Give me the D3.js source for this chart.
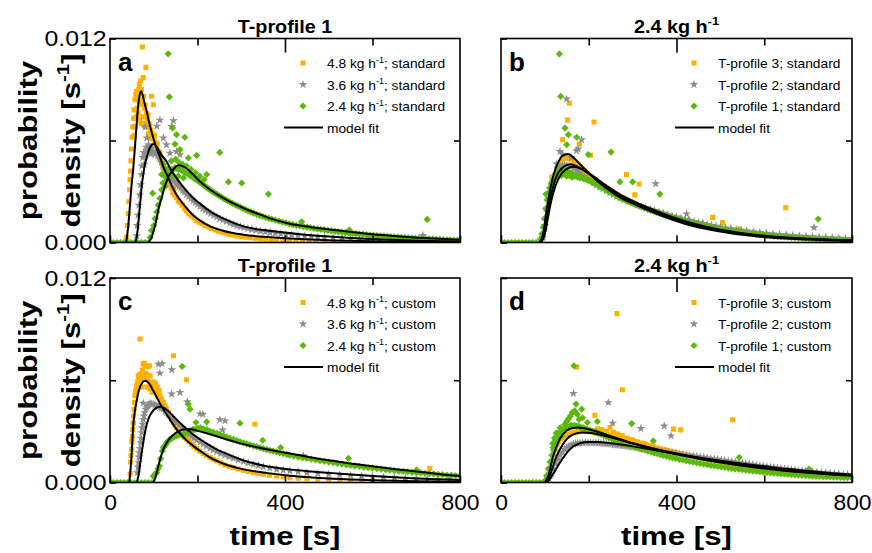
<!DOCTYPE html>
<html>
<head>
<meta charset="utf-8">
<script src="https://cdn.jsdelivr.net/npm/d3@7"></script>
<style>
body { margin: 0; background: #fff; }
text { font-family: "Liberation Sans", Arial, sans-serif; }
</style>
</head>
<body>
<div id="graph"></div>
<script>
// data: [time s, probability density in 1e-3 s^-1]

// panel a - T-profile 1, standard
var aStd48 = [[38,0.3],[40,1.0],[42,1.7],[43,2.4],[45,3.1],[46,3.7],[47,4.2],[48,4.8],[49,5.5],[51,6.2],[52,6.8],[54,7.3],[55,7.8],[56,6.3],[57,8.4],[58,6.8],[59,8.7],[60,7.4],[61,8.9],[62,7.9],[63,8.6],[64,7.6],[65,8.4],[66,9.0],[67,9.3],[68,7.2],[69,8.3],[70,9.5],[71,7.0],[72,9.0],[73,8.1],[74,11.5],[75,7.4],[76,9.7],[77,8.6],[78,6.9],[79,7.9],[80,8.1],[81,7.0],[82,10.3],[83,7.6],[84,6.8],[85,7.3],[87,7.5],[88,6.4],[89,7.0],[91,6.9],[92,6.1],[93,6.6],[95,8.6],[96,6.4],[99,8.1],[100,6.1],[102,6.3],[103,5.9],[106,5.7],[108,5.8],[109,5.4],[112,5.1],[114,5.3],[115,4.9],[118,4.7],[120,4.8],[121,4.4],[124,4.2],[126,4.35],[127,3.95],[130,3.8],[132,3.95],[133,3.6],[136,3.4],[138,3.6],[140,3.2],[144,2.95],[146,3.2],[148,2.8],[152,2.65],[156,2.45],[160,2.35],[165,2.2],[170,2.0],[175,1.85],[180,1.7],[186,1.58],[192,1.45],[198,1.3],[204,1.2],[210,1.1],[217,1.0],[224,0.92],[232,0.82],[240,0.74],[248,0.66],[256,0.6],[264,0.54],[272,0.48],[280,0.44],[290,0.39],[300,0.35],[310,0.31],[320,0.28],[332,0.25],[344,0.22],[356,0.19],[368,0.17],[380,0.15],[395,0.13],[410,0.11],[425,0.1],[440,0.08],[455,0.07],[470,0.06],[490,0.05],[510,0.04],[530,0.03]];
var aStd36 = [[61,0.4],[62,1.0],[64,1.6],[66,2.2],[68,2.8],[70,3.4],[72,4.0],[73,4.5],[75,5.0],[77,5.3],[78,4.6],[80,6.8],[81,5.1],[83,5.6],[84,6.15],[86,5.4],[88,5.75],[90,5.5],[91,5.36],[93,5.2],[95,5.56],[97,5.3],[100,5.35],[103,5.2],[105,5.3],[107,6.84],[109,5.1],[112,5.0],[114,7.2],[115,4.9],[118,4.7],[121,4.55],[122,6.15],[124,4.4],[127,4.25],[129,5.75],[130,4.2],[133,4.05],[136,3.95],[137,5.26],[139,3.85],[141,6.83],[142,3.7],[145,7.17],[146,3.6],[150,3.5],[152,5.36],[154,3.4],[158,3.3],[160,5.17],[162,3.2],[166,3.08],[170,2.95],[175,2.82],[180,2.7],[185,2.58],[190,2.46],[195,2.35],[200,2.24],[206,2.12],[212,2.0],[218,1.9],[224,1.8],[230,1.7],[237,1.6],[244,1.5],[251,1.4],[258,1.32],[266,1.23],[274,1.14],[282,1.06],[290,0.99],[298,0.93],[306,0.88],[315,0.82],[324,0.77],[334,0.72],[344,0.67],[355,0.62],[366,0.58],[378,0.54],[390,0.5],[402,0.47],[415,0.44],[430,0.41],[445,0.38],[460,0.35],[475,0.32],[490,0.3],[510,0.27],[530,0.25],[550,0.22],[570,0.2],[590,0.18],[615,0.16],[640,0.14],[665,0.12],[690,0.1],[715,0.42],[720,0.09],[745,0.08],[770,0.07],[795,0.06]];
var aStd24 = [[0,0],[8,0],[16,0],[24,0],[32,0],[40,0],[48,0],[56,0],[64,0],[72,0],[80,0],[88,0],[92,0.3],[95,0.7],[97.5,2.9],[100,1.0],[103,1.4],[107,1.8],[110,2.2],[114,2.6],[118,3.1],[118,4.0],[121,3.5],[122,4.6],[125,3.9],[126,3.3],[128,4.1],[130,4.2],[130,3.7],[133,11.1],[134,4.3],[135,4.0],[135.6,8.56],[138,4.2],[140,4.8],[141,4.3],[143,6.74],[145,4.28],[145,3.9],[148.6,5.79],[149,4.4],[150,4.9],[152,6.34],[153,4.35],[156,3.9],[157,4.3],[158,4.7],[160,5.46],[161,4.32],[165,4.22],[166,4.6],[168,3.8],[169,4.15],[171,6.19],[173,4.1],[175,4.5],[177,4.05],[179,4.97],[181,3.98],[185,3.92],[185,4.3],[189,3.85],[193,3.76],[195,4.1],[197,3.7],[198,5.13],[201,3.62],[205,3.55],[205,3.9],[209,3.48],[213,3.4],[215,3.7],[217,3.32],[221,3.24],[221,4.0],[225,3.16],[229,3.1],[234,3.0],[239,2.92],[244,2.84],[249,2.76],[251,5.3],[254,2.68],[259,2.6],[264,2.52],[269,2.45],[270.5,3.56],[274,2.38],[280,2.3],[286,2.22],[292,2.15],[298,2.08],[301,3.5],[304,2.0],[310,1.93],[316,1.86],[322,1.8],[328,1.73],[335,1.66],[342,1.6],[349,1.53],[356,1.47],[362,2.85],[363,1.42],[370,1.37],[378,1.31],[386,1.26],[394,1.2],[402,1.15],[410,1.1],[418,1.05],[426,1.01],[434,0.97],[438,1.22],[442,0.93],[450,0.9],[458,0.87],[466,0.83],[474,0.8],[482,0.77],[490,0.74],[498,0.71],[506,0.68],[514,0.66],[522,0.63],[530,0.61],[538,0.58],[546,0.56],[547,0.74],[554,0.54],[562,0.52],[570,0.5],[578,0.48],[586,0.46],[594,0.44],[602,0.42],[610,0.4],[618,0.39],[626,0.37],[634,0.35],[642,0.34],[650,0.33],[658,0.31],[666,0.3],[674,0.29],[682,0.27],[690,0.26],[698,0.25],[706,0.24],[714,0.23],[722,0.22],[725,1.36],[730,0.21],[738,0.2],[746,0.19],[754,0.18],[762,0.17],[770,0.16],[778,0.15],[786,0.14],[794,0.13],[800,0.13]];
var aFit48 = [[37,0],[41,0.8],[45,2.0],[49,3.3],[53,4.3],[57,5.6],[61,7.0],[65,8.2],[68,8.7],[71,8.9],[74,8.75],[78,8.3],[84,7.7],[91,6.9],[99,6.15],[107,5.5],[115,4.97],[122,4.45],[130,3.99],[141,3.35],[152,2.81],[163,2.4],[175,2.03],[190,1.6],[205,1.3],[229,0.95],[260,0.68],[305,0.46],[360,0.32],[411,0.23],[460,0.17],[520,0.12],[600,0.07],[700,0.04],[800,0.02]];
var aFit36 = [[57,0],[61,0.3],[64,0.9],[67,1.8],[70,2.6],[72,3.2],[76,4.0],[80,4.6],[85,5.1],[90,5.5],[95,5.72],[99,5.8],[104,5.72],[110,5.5],[118,5.15],[129,4.78],[140,4.25],[152,3.79],[165,3.35],[178,2.95],[190,2.62],[210,2.2],[229,1.83],[260,1.4],[305,0.95],[360,0.7],[411,0.56],[460,0.43],[520,0.32],[600,0.2],[700,0.11],[800,0.06]];
var aFit24 = [[88,0],[95,0.3],[101,0.8],[107,1.44],[112,2.1],[118,2.62],[124,3.2],[129.5,3.6],[135,3.95],[141,4.16],[148,4.4],[156,4.54],[165,4.5],[175,4.35],[190,4.0],[205,3.6],[229,3.1],[260,2.6],[305,2.03],[335,1.72],[366,1.42],[411,1.1],[460,0.9],[518,0.72],[594,0.5],[670,0.34],[740,0.23],[800,0.16]];

// panel b - 2.4 kg/h, standard
var bStdTP3 = [[96,0.3],[100,0.8],[104,1.5],[108,2.2],[112,2.8],[115.5,3.87],[116,3.3],[120,3.7],[124,4.0],[128,4.3],[132,4.5],[136,4.7],[140,4.85],[140.5,6.05],[144,4.95],[148,5.0],[152,7.2],[152,5.0],[155.7,8.2],[156,4.95],[160,4.9],[164,4.85],[168,4.75],[172,4.65],[176,4.55],[178.5,5.79],[180,4.45],[185,4.3],[190,4.2],[195,4.08],[200,3.95],[204,5.13],[206,3.85],[212,7.09],[212,3.72],[218,3.6],[224,3.5],[230,3.38],[236,3.27],[242,3.17],[248,3.07],[254,2.97],[260,2.88],[266,2.79],[272,2.7],[278,2.62],[284,2.54],[286,4.0],[290,2.46],[296,2.39],[302,2.32],[305,2.8],[308,2.25],[314,2.18],[315,3.44],[320,2.12],[326,2.06],[332,2.0],[338,1.94],[344,1.88],[350,1.83],[357,1.77],[364,1.71],[371,1.65],[378,1.59],[385,1.53],[392,1.47],[400,1.41],[408,1.35],[416,1.29],[424,1.24],[432,1.19],[440,1.14],[448,1.09],[456,1.04],[464,0.99],[472,0.95],[480,0.91],[482.5,1.48],[488,0.87],[496,0.83],[504,0.79],[505,1.17],[512,0.75],[520,0.72],[528,0.69],[536,0.66],[543,0.81],[544,0.63],[552,0.6],[560,0.57],[570,0.54],[580,0.51],[590,0.48],[600,0.45],[610,0.42],[620,0.4],[630,0.38],[640,0.36],[649,2.05],[650,0.34],[660,0.32],[670,0.3],[680,0.28],[690,0.26],[700,0.25],[710,0.23],[720,0.22],[730,0.21],[740,0.2],[750,0.19],[760,0.18],[770,0.17],[780,0.16],[790,0.15],[800,0.14]];
var bStdTP2 = [[95,0.3],[100,1.0],[105,1.8],[110,2.6],[115,3.2],[120,3.7],[125,4.0],[127,4.62],[130,4.25],[134.5,5.36],[135,4.4],[140,4.5],[140,5.2],[145,4.55],[149.7,8.44],[150,4.55],[155,4.5],[160,4.45],[160,5.0],[166,4.35],[172,4.25],[172,5.4],[176,5.5],[178,4.1],[183.9,6.05],[184,3.98],[190,3.88],[197,3.75],[204,3.62],[211,3.5],[218,3.38],[225,3.27],[232,3.16],[240,3.04],[248,2.93],[256,2.82],[264,2.72],[272,2.62],[280,2.53],[290,2.42],[300,2.32],[310,2.22],[320,2.13],[330,2.04],[340,1.96],[350,1.88],[352.5,3.46],[360,1.8],[370,1.72],[380,1.64],[390,1.57],[400,1.5],[410,1.43],[420,1.36],[423,1.68],[427,1.32],[430,1.3],[440,1.24],[450,1.18],[460,1.12],[461,1.09],[470,1.06],[480,1.01],[490,0.96],[500,0.91],[512,0.86],[524,0.81],[536,0.76],[548,0.72],[560,0.68],[575,0.63],[590,0.59],[605,0.55],[620,0.51],[635,0.48],[650,0.45],[665,0.42],[680,0.39],[695,0.37],[710,0.34],[713.4,0.89],[725,0.32],[740,0.3],[755,0.28],[770,0.26],[785,0.24],[800,0.22]];
var bStdTP1 = [[0,0],[8,0],[16,0],[24,0],[32,0],[40,0],[48,0],[56,0],[64,0],[72,0],[80,0],[88,0],[90,0.2],[93,0.5],[96,0.9],[99,1.4],[102,2.0],[102.6,2.85],[105,2.5],[108,2.9],[111,3.2],[114,3.45],[117,3.6],[120,3.7],[123,3.8],[126,3.9],[129,4.0],[132,4.2],[133,11.09],[135,4.1],[136,8.6],[138,3.95],[141,4.3],[144,4.0],[145.9,6.73],[147,4.1],[149.7,5.75],[150,3.9],[153,4.15],[153.5,6.34],[156,3.95],[159,4.1],[162,3.85],[165,4.0],[168,3.9],[171,3.95],[172.5,6.19],[174,3.85],[177,3.9],[180,3.8],[184,3.85],[188,3.75],[192,3.75],[196,3.7],[199,5.17],[200,3.65],[205,3.58],[210,3.52],[215,3.45],[220,3.38],[225,3.3],[230,3.23],[236,3.14],[242,3.05],[248,2.96],[250.7,5.32],[254,2.87],[260,2.79],[266,2.71],[271,3.56],[272,2.63],[278,2.55],[284,2.48],[290,2.41],[296,2.34],[300,3.56],[302,2.28],[308,2.21],[314,2.15],[320,2.09],[327,2.02],[334,1.95],[341,1.89],[348,1.83],[355,1.77],[362,1.71],[362,2.85],[369,1.65],[376,1.6],[383,1.54],[390,1.49],[398,1.43],[406,1.37],[414,1.31],[422,1.25],[430,1.19],[438,1.14],[446,1.09],[454,1.04],[462,0.99],[470,0.94],[478,0.9],[486,0.86],[494,0.82],[502,0.78],[510,0.75],[518,0.71],[526,0.68],[534,0.65],[542,0.62],[550,0.59],[558,0.56],[566,0.53],[574,0.51],[582,0.48],[590,0.46],[598,0.44],[606,0.42],[614,0.4],[622,0.38],[630,0.36],[638,0.34],[646,0.33],[654,0.31],[662,0.3],[670,0.28],[678,0.27],[686,0.26],[694,0.24],[702,0.23],[710,0.22],[718,0.21],[723,1.38],[726,0.2],[734,0.19],[742,0.18],[750,0.17],[758,0.16],[766,0.15],[774,0.15],[782,0.14],[790,0.13],[800,0.12]];
var bFitTP3 = [[88,0],[95,0.4],[104,1.9],[112,3.1],[120,4.0],[130,4.7],[140,5.1],[153,5.2],[165,5.0],[180,4.6],[200,4.1],[225,3.5],[250,3.0],[275,2.6],[300,2.3],[340,1.85],[390,1.35],[440,0.95],[500,0.65],[550,0.45],[620,0.28],[700,0.17],[800,0.09]];
var bFitTP2 = [[90,0],[97,0.4],[106,1.8],[115,2.9],[125,3.8],[140,4.4],[158,4.6],[175,4.45],[200,4.05],[225,3.55],[250,3.1],[275,2.7],[300,2.4],[340,1.95],[390,1.45],[440,1.05],[500,0.72],[550,0.52],[620,0.33],[700,0.2],[800,0.11]];
var bFitTP1 = [[92,0],[100,0.5],[110,1.9],[120,3.0],[132,3.8],[148,4.3],[165,4.45],[185,4.3],[210,3.9],[240,3.35],[270,2.85],[300,2.45],[340,2.0],[390,1.5],[440,1.1],[500,0.75],[550,0.55],[620,0.35],[700,0.22],[800,0.12]];

// panel c - T-profile 1, custom
var cCus48 = [[46,0.5],[47,1.2],[48,1.6],[49.5,1.95],[50,2.4],[51,2.7],[52,3.1],[53.3,3.5],[54,3.9],[55,4.3],[56,4.7],[57,5.1],[59,5.4],[61,5.68],[63,5.9],[64.8,6.26],[66,6.0],[68.6,6.36],[68.6,8.42],[70,6.1],[72,5.6],[72.4,6.26],[74,6.6],[76,6.95],[78,6.2],[78.5,7.0],[80,6.85],[82,6.4],[84,6.07],[84,5.6],[86,6.3],[87.6,6.8],[90,6.85],[90,5.5],[91.4,6.26],[93,5.9],[95,5.87],[96,5.3],[97,5.75],[99,5.68],[100,5.9],[102,5.5],[104,5.8],[106.7,5.38],[108,5.6],[110,5.2],[112,5.4],[114,5.09],[118,4.9],[122,4.7],[126,4.5],[129.5,4.3],[133,4.1],[137,3.91],[141,3.72],[145,3.52],[145,7.44],[148,3.38],[152,3.23],[158,3.03],[164,2.83],[170,2.66],[175,2.54],[175,6.03],[181,2.4],[186.7,2.25],[192,2.12],[198,1.99],[205,1.84],[213,1.7],[220,1.58],[228.6,1.46],[236,1.36],[244,1.27],[253,1.15],[263,1.03],[272,0.95],[282,0.87],[293,0.79],[305,0.72],[316,0.65],[327.6,0.58],[331,3.42],[339,0.53],[350.5,0.48],[365,0.43],[381,0.38],[396,0.33],[411,0.28],[430,0.25],[450,0.22],[475,0.19],[500,0.17],[525,0.15],[550,0.13],[575,0.11],[600,0.1],[625,0.08],[650,0.07],[675,0.06],[700,0.05],[731,0.83]];
var cCus36 = [[62.5,0.58],[64,0.9],[64.8,1.17],[66,1.5],[67,1.75],[68.5,2.0],[70,2.34],[71,2.6],[72.4,2.93],[73.5,3.2],[74.7,3.42],[76,3.7],[76,4.66],[77.7,3.91],[79,4.1],[81.5,4.3],[84,4.4],[86,4.5],[88,4.55],[91.4,4.66],[95,4.6],[99,4.6],[103,4.55],[106.7,4.5],[110,4.45],[110.5,6.95],[114,4.4],[114,6.42],[118,4.35],[119,6.97],[122,4.3],[126,4.2],[129.5,4.1],[133,4.0],[137,3.91],[141,3.82],[141,6.62],[141,5.19],[145,3.72],[148,3.62],[152,3.52],[158,3.38],[160,5.28],[164,3.23],[170,3.08],[175,2.93],[176.8,4.74],[181,2.81],[186.7,2.7],[192,2.6],[198,2.5],[205.7,4.03],[206,2.37],[212,4.0],[213,2.25],[220,2.13],[228.6,2.01],[236,1.91],[244,1.81],[251,3.68],[253,1.7],[257.5,3.09],[263,1.6],[263,3.62],[272,1.51],[282,1.42],[293,1.32],[305,1.23],[316,1.15],[327.6,1.07],[339,1.0],[350.5,0.93],[365,0.85],[381,0.77],[396,0.72],[411,0.68],[430,0.63],[441.9,1.58],[450,0.58],[475,0.53],[500,0.49],[525,0.45],[550,0.42],[575,0.38],[600,0.35],[625,0.32],[650,0.28],[675,0.25],[700,0.22],[725,0.2],[750,0.18],[775,0.16],[800,0.14]];
var cCus24 = [[0,0],[8,0],[16,0],[24,0],[32,0],[40,0],[48,0],[56,0],[64,0],[72,0],[80,0],[88,0],[96,0],[99,0.38],[103,0.5],[106.7,0.58],[110,0.8],[112.8,0.97],[115.8,1.4],[119.6,1.85],[122,2.05],[125.7,2.15],[128,2.25],[131,2.38],[134,2.45],[137,2.54],[141,2.6],[145,2.64],[148,2.7],[152,2.74],[156,2.78],[160,2.83],[164,2.8],[165,6.81],[167.6,2.77],[171,2.85],[175,2.93],[179,4.6],[179,2.98],[183,3.03],[183,4.3],[187,3.08],[190.5,3.13],[194,3.1],[196.6,3.52],[198,3.15],[202,3.18],[207,3.2],[213,3.15],[221,3.56],[221,3.1],[228.6,3.0],[236,2.95],[243.8,2.88],[251,2.82],[259,2.75],[266,2.68],[274,2.6],[282,2.53],[289.5,2.46],[297,2.4],[297,3.48],[305,2.33],[312,2.27],[320,2.21],[328,2.15],[335,2.1],[343,2.04],[349,2.48],[350.5,1.99],[358,1.94],[365.7,1.89],[373,1.84],[381,1.79],[388,1.74],[390,2.05],[396,1.7],[404,1.65],[411,1.6],[420,1.55],[430,1.5],[440,1.45],[450,1.41],[460,1.37],[470,1.32],[480,1.28],[490,1.24],[500,1.2],[510,1.16],[520,1.12],[530,1.08],[540,1.04],[545,1.42],[550,1.0],[560,0.97],[570,0.94],[580,0.9],[590,0.87],[600,0.84],[610,0.81],[620,0.78],[630,0.75],[640,0.72],[650,0.7],[660,0.67],[670,0.65],[680,0.62],[690,0.6],[700,0.58],[701,0.74],[710,0.56],[720,0.54],[730,0.52],[740,0.5],[750,0.48],[760,0.46],[770,0.44],[780,0.42],[790,0.41],[800,0.4]];
var cFit48 = [[44,0],[47,0.8],[50,1.9],[53,3.3],[57,4.2],[61,4.8],[66,5.4],[72,5.8],[80,5.97],[88,5.85],[99,5.38],[110,4.85],[122,4.3],[137,3.7],[152,3.13],[170,2.6],[190,2.15],[210,1.78],[229,1.46],[260,1.1],[305,0.77],[360,0.55],[411,0.4],[460,0.3],[510,0.22],[600,0.13],[700,0.07],[800,0.04]];
var cFit36 = [[61,0],[65,0.4],[70,1.3],[76,2.34],[82,3.2],[87.6,3.72],[95,4.1],[104,4.35],[114,4.44],[125,4.35],[137,4.1],[150,3.75],[167.6,3.32],[185,2.92],[205.7,2.54],[225,2.22],[243.8,1.95],[270,1.65],[305,1.3],[350,1.0],[411,0.77],[460,0.65],[510,0.55],[600,0.38],[700,0.24],[800,0.15]];
var cFit24 = [[99,0],[104,0.3],[110.5,0.97],[116,1.5],[122,1.95],[130,2.35],[137,2.6],[145,2.8],[152,2.95],[160,3.05],[171,3.13],[185,3.12],[200,3.03],[215,2.93],[228.6,2.83],[260,2.58],[305,2.25],[358,1.95],[411,1.7],[460,1.47],[510,1.27],[560,1.08],[600,0.95],[663,0.75],[700,0.65],[750,0.5],[800,0.38]];

// panel d - 2.4 kg/h, custom
var dCusTP3 = [[104,0.2],[108,0.5],[112,0.9],[116,1.3],[120,1.65],[124,1.95],[128,2.2],[132,2.4],[136,2.55],[140,2.65],[145,2.75],[150,2.8],[155,2.85],[160,2.9],[165,2.92],[170,2.95],[172.5,6.78],[175,2.97],[180,3.0],[185,3.0],[190,3.05],[195,3.0],[200,3.02],[205,2.98],[210,2.95],[214,3.95],[215,2.92],[220,3.15],[225,2.88],[230,3.1],[235,2.82],[240,3.0],[245,2.78],[248.4,3.23],[250,2.75],[256,2.95],[260,2.68],[264.4,9.91],[266,2.85],[270,2.62],[276,2.75],[277,5.44],[282,2.55],[288,2.6],[294,2.48],[300,2.5],[306,2.4],[312,2.38],[318,2.32],[325,2.28],[332,2.22],[340,2.16],[348,2.1],[356,2.04],[364,1.98],[372,1.93],[380,1.88],[388,1.83],[393,3.13],[396,1.78],[404,1.73],[409.5,3.09],[412,1.68],[420,1.63],[428,1.58],[436,1.54],[444,1.5],[452,1.45],[460,1.41],[468,1.37],[476,1.33],[484,1.29],[492,1.25],[500,1.21],[508,1.17],[516,1.14],[524,1.1],[528,3.68],[532,1.07],[540,1.04],[548,1.0],[556,0.97],[564,0.94],[572,0.91],[580,0.88],[588,0.85],[596,0.82],[604,0.8],[612,0.77],[620,0.75],[628,0.72],[636,0.7],[644,0.68],[652,0.66],[660,0.64],[668,0.62],[676,0.6],[684,0.58],[692,0.56],[700,0.54],[710,0.52],[720,0.5],[730,0.48],[740,0.46],[750,0.45],[760,0.43],[770,0.42],[780,0.4],[790,0.39],[800,0.38]];
var dCusTP2 = [[110,0.2],[115,0.5],[120,0.8],[125,1.1],[130,1.35],[135,1.6],[140,1.8],[145,1.95],[150,2.05],[155,2.15],[160,2.2],[165,2.25],[165,5.22],[170,2.28],[175,2.3],[180,2.32],[186,2.33],[192,2.35],[198,2.34],[204,2.34],[210,2.33],[216,2.33],[222,2.32],[228,2.3],[234,2.29],[240,2.27],[244.6,4.69],[246,2.26],[252,2.24],[254.5,3.48],[258,2.22],[264,2.2],[270,2.18],[276,2.16],[282,2.14],[288,2.12],[294,2.1],[300,2.08],[307,2.05],[314,2.03],[319,3.17],[321,2.0],[328,1.97],[335,1.95],[342,1.92],[350,1.89],[358,1.86],[366,1.83],[372,3.32],[374,1.8],[382,1.77],[387.5,2.74],[390,1.74],[398,1.71],[406,1.68],[414,1.65],[422,1.62],[430,1.59],[438,1.56],[446,1.53],[454,1.5],[462,1.47],[470,1.44],[478,1.41],[486,1.38],[494,1.35],[502,1.32],[510,1.29],[518,1.26],[526,1.23],[534,1.2],[542,1.17],[550,1.14],[558,1.11],[566,1.08],[574,1.05],[582,1.02],[590,0.99],[598,0.96],[606,0.93],[614,0.9],[622,0.88],[630,0.85],[638,0.82],[646,0.8],[654,0.77],[662,0.75],[670,0.72],[678,0.7],[686,0.68],[694,0.66],[702,0.64],[710,0.62],[720,0.6],[730,0.58],[740,0.56],[750,0.54],[760,0.52],[770,0.5],[780,0.48],[790,0.47],[800,0.46]];
var dCusTP1 = [[0,0],[8,0],[16,0],[24,0],[32,0],[40,0],[48,0],[56,0],[64,0],[72,0],[80,0],[88,0],[96,0],[100,0.1],[104,0.4],[108,0.8],[112,1.2],[116,1.6],[118,2.3],[119.3,2.05],[120,1.9],[122,2.6],[124,2.2],[126,2.9],[128,2.45],[130,2.9],[132,2.65],[135,3.2],[136,2.85],[138,2.74],[140,3.0],[144,3.1],[145,3.4],[148,3.2],[150,3.6],[152,3.25],[153.5,3.72],[156,3.3],[158,3.9],[160,3.35],[162,4.1],[164,3.3],[166.4,6.85],[168,3.35],[168,4.2],[171,4.6],[172,3.3],[174,4.0],[176,3.32],[178,3.7],[180,3.25],[183.9,4.3],[184,3.22],[186,3.8],[188,3.2],[192,3.15],[196.8,3.52],[197,3.12],[202,3.08],[207,3.03],[212,2.98],[217,2.93],[219.6,3.58],[222,2.88],[228,2.82],[234,2.76],[240,2.7],[246,2.64],[252,2.58],[258,2.52],[264,2.46],[270,2.4],[276,2.35],[282,2.29],[288,2.24],[294,2.18],[297.8,3.46],[300,2.13],[307,2.07],[314,2.01],[321,1.95],[328,1.9],[335,1.84],[342,1.79],[347,2.44],[349,1.74],[356,1.69],[363,1.64],[370,1.59],[377,1.54],[384,1.5],[391,1.45],[398,1.41],[406,1.36],[414,1.32],[422,1.28],[430,1.24],[438,1.2],[446,1.16],[454,1.12],[462,1.08],[470,1.05],[478,1.01],[486,0.98],[494,0.95],[502,0.92],[510,0.89],[518,0.86],[526,0.83],[534,0.8],[542,0.78],[543,1.48],[550,0.75],[558,0.73],[566,0.7],[574,0.68],[582,0.66],[590,0.63],[598,0.61],[606,0.59],[614,0.57],[622,0.55],[630,0.53],[638,0.51],[646,0.5],[654,0.48],[662,0.46],[670,0.45],[678,0.43],[686,0.42],[694,0.4],[702,0.39],[702,0.79],[710,0.38],[718,0.37],[726,0.36],[734,0.35],[742,0.34],[750,0.33],[758,0.32],[766,0.31],[774,0.3],[782,0.29],[790,0.28],[800,0.27]];
var dFitTP3 = [[102,0],[110,0.35],[127,1.56],[140,2.2],[150,2.55],[165,2.82],[185,2.93],[205,2.9],[230,2.78],[260,2.58],[300,2.3],[350,1.98],[400,1.7],[450,1.45],[500,1.22],[550,1.02],[600,0.86],[650,0.72],[700,0.6],[750,0.5],[800,0.42]];
var dFitTP2 = [[105,0],[115,0.35],[134.5,1.17],[157,1.95],[180,2.3],[200,2.38],[220,2.38],[250,2.3],[300,2.12],[350,1.9],[400,1.68],[450,1.47],[500,1.28],[550,1.1],[600,0.95],[650,0.8],[700,0.68],[750,0.56],[800,0.46]];
var dFitTP1 = [[100,0],[108,0.4],[119,1.56],[128,2.2],[135,2.6],[150,3.05],[165,3.2],[175,3.23],[190,3.18],[210,3.05],[240,2.8],[270,2.55],[300,2.3],[350,1.95],[400,1.65],[450,1.4],[500,1.18],[550,0.98],[600,0.82],[650,0.68],[700,0.57],[750,0.47],[800,0.39]];

// labels (superscripts are the odd entries)
var titles = [["T-profile 1"], ["2.4 kg h", "-1"], ["T-profile 1"], ["2.4 kg h", "-1"]];
var legendA = [["4.8 kg h", "-1", "; standard"], ["3.6 kg h", "-1", "; standard"], ["2.4 kg h", "-1", "; standard"]];
var legendB = [["T-profile 3; standard"], ["T-profile 2; standard"], ["T-profile 1; standard"]];
var legendC = [["4.8 kg h", "-1", "; custom"], ["3.6 kg h", "-1", "; custom"], ["2.4 kg h", "-1", "; custom"]];
var legendD = [["T-profile 3; custom"], ["T-profile 2; custom"], ["T-profile 1; custom"]];
var xTicks = [0, 200, 400, 600, 800];
var yTicks = [0, 0.006, 0.012];

var colors = ["#ffb000", "#8c8c8c", "#5ab90b"];

var svg = d3.select("#graph").append("svg")
  .attr("width", 872).attr("height", 553);

var panels = [
  {id: "a", x0: 110, x1: 460, y0: 38.5, y1: 242.5, series: [aStd48, aStd36, aStd24], fits: [aFit48, aFit36, aFit24], legend: legendA, title: titles[0], left: true, bottom: false},
  {id: "b", x0: 501, x1: 852, y0: 38.5, y1: 242.5, series: [bStdTP3, bStdTP2, bStdTP1], fits: [bFitTP3, bFitTP2, bFitTP1], legend: legendB, title: titles[1], left: false, bottom: false},
  {id: "c", x0: 110, x1: 460, y0: 278, y1: 482.5, series: [cCus48, cCus36, cCus24], fits: [cFit48, cFit36, cFit24], legend: legendC, title: titles[2], left: true, bottom: true},
  {id: "d", x0: 501, x1: 852, y0: 278, y1: 482.5, series: [dCusTP3, dCusTP2, dCusTP1], fits: [dFitTP3, dFitTP2, dFitTP1], legend: legendD, title: titles[3], left: false, bottom: true}
];

// marker shapes: square, star, diamond
var shapes = [
  {path: d3.symbol().type(d3.symbolSquare).size(26)(), rot: 0},
  {path: d3.symbol().type(d3.symbolStar).size(24)(), rot: 0},
  {path: d3.symbol().type(d3.symbolSquare).size(26)(), rot: 45}
];

// text with superscripts, stretched a bit sideways like the original
function richText(g, parts, fs, sx, transform) {
  var t = g.append("text").attr("font-size", fs)
    .attr("transform", transform + " scale(" + sx + ",1)");
  parts.forEach(function(p, i) {
    var ts = t.append("tspan").text(p);
    if (i % 2 == 1) ts.attr("font-size", fs * 0.65).attr("dy", -fs * 0.42);
    else if (i > 0) ts.attr("dy", fs * 0.42);
  });
  return t;
}

panels.forEach(function(p) {
  var x = d3.scaleLinear().domain([0, 800]).range([p.x0, p.x1]);
  var y = d3.scaleLinear().domain([0, 0.012]).range([p.y1, p.y0]);
  var g = svg.append("g");

  g.append("clipPath").attr("id", "clip-" + p.id)
    .append("rect").attr("x", p.x0).attr("y", p.y0)
    .attr("width", p.x1 - p.x0).attr("height", p.y1 - p.y0);

  var plot = g.append("g").attr("clip-path", "url(#clip-" + p.id + ")");

  p.series.forEach(function(s, k) {
    plot.append("g").selectAll("path")
      .data(s)
      .enter()
      .append("path")
      .attr("d", shapes[k].path)
      .attr("transform", function(d) { return "translate(" + x(d[0]) + "," + y(d[1] * 1e-3) + ") rotate(" + shapes[k].rot + ")"; })
      .attr("fill", colors[k]);
  });

  var line = d3.line()
    .x(function(d) { return x(d[0]); })
    .y(function(d) { return y(d[1] * 1e-3); })
    .curve(d3.curveMonotoneX);

  p.fits.forEach(function(f) {
    plot.append("path").attr("d", line(f))
      .attr("fill", "none").attr("stroke", "#000").attr("stroke-width", 2);
  });

  // axes, ticks pointing inward
  var xb = g.append("g").attr("transform", "translate(0," + p.y1 + ")")
    .call(d3.axisBottom(x).tickValues(xTicks).tickSizeInner(-7).tickSizeOuter(0).tickPadding(12)
      .tickFormat(function(d) { return p.bottom && d % 400 == 0 ? d : ""; }));
  var xt1 = g.append("g").attr("transform", "translate(0," + p.y0 + ")")
    .call(d3.axisTop(x).tickValues([200, 600]).tickSizeInner(-7).tickSizeOuter(0).tickFormat(""));
  var xt2 = g.append("g").attr("transform", "translate(0," + p.y0 + ")")
    .call(d3.axisTop(x).tickValues([400]).tickSizeInner(-14).tickSizeOuter(0).tickFormat(""));
  var yl = g.append("g").attr("transform", "translate(" + p.x0 + ",0)")
    .call(d3.axisLeft(y).tickValues(yTicks).tickSizeInner(-6).tickSizeOuter(0).tickPadding(3)
      .tickFormat(function(d) { return p.left && d != 0.006 ? d3.format(".3f")(d) : ""; }));
  var yr = g.append("g").attr("transform", "translate(" + p.x1 + ",0)")
    .call(d3.axisRight(y).tickValues([0.006]).tickSizeInner(-6).tickSizeOuter(0).tickFormat(""));

  [xb, xt1, xt2, yl, yr].forEach(function(a) {
    a.select(".domain").remove();
    a.selectAll("line").attr("stroke-width", 1.6);
    a.attr("font-size", 22).attr("font-family", "'Liberation Sans', Arial, sans-serif");
    a.selectAll("text").attr("fill", "#000");
  });
  xb.selectAll("text").attr("transform", "scale(1.04,1)");
  yl.selectAll("text").attr("transform", "scale(1.13,1)");

  g.append("rect").attr("x", p.x0).attr("y", p.y0)
    .attr("width", p.x1 - p.x0).attr("height", p.y1 - p.y0)
    .attr("fill", "none").attr("stroke", "#000").attr("stroke-width", 1.6);

  var cx = (p.x0 + p.x1) / 2;

  // title and panel letter
  richText(g, p.title, 18, 1.1, "translate(" + cx + "," + (p.y0 - 6) + ")")
    .attr("text-anchor", "middle").attr("font-weight", "bold");
  g.append("text").attr("x", p.x0 + 8).attr("y", p.y0 + 32)
    .attr("font-size", 26).attr("font-weight", "bold").text(p.id);

  // legend
  p.legend.forEach(function(l, i) {
    var my = p.y0 + 24.5 + i * 21.5;
    g.append("path").attr("d", shapes[i].path)
      .attr("transform", "translate(" + (p.x0 + 193) + "," + my + ") rotate(" + shapes[i].rot + ")")
      .attr("fill", colors[i]);
    richText(g, l, 13, 1.06, "translate(" + (p.x0 + 217) + "," + (my + 5) + ")");
  });
  var ly = p.y0 + 24.5 + 3 * 21.5;
  g.append("line").attr("x1", p.x0 + 174).attr("x2", p.x0 + 213)
    .attr("y1", ly).attr("y2", ly).attr("stroke", "#000").attr("stroke-width", 2);
  richText(g, ["model fit"], 13, 1.06, "translate(" + (p.x0 + 217) + "," + (ly + 5) + ")");

  // axis titles
  if (p.left) {
    var cy = (p.y0 + p.y1) / 2;
    richText(g, ["probability"], 26, 1.2, "translate(37," + cy + ") rotate(-90)")
      .attr("text-anchor", "middle").attr("font-weight", "bold");
    richText(g, ["density [s", "-1", "]"], 26, 1.2, "translate(80," + cy + ") rotate(-90)")
      .attr("text-anchor", "middle").attr("font-weight", "bold");
  }
  if (p.bottom) {
    richText(g, ["time [s]"], 26, 1.2, "translate(" + cx + ",545)")
      .attr("text-anchor", "middle").attr("font-weight", "bold");
  }
});
</script>
</body>
</html>
